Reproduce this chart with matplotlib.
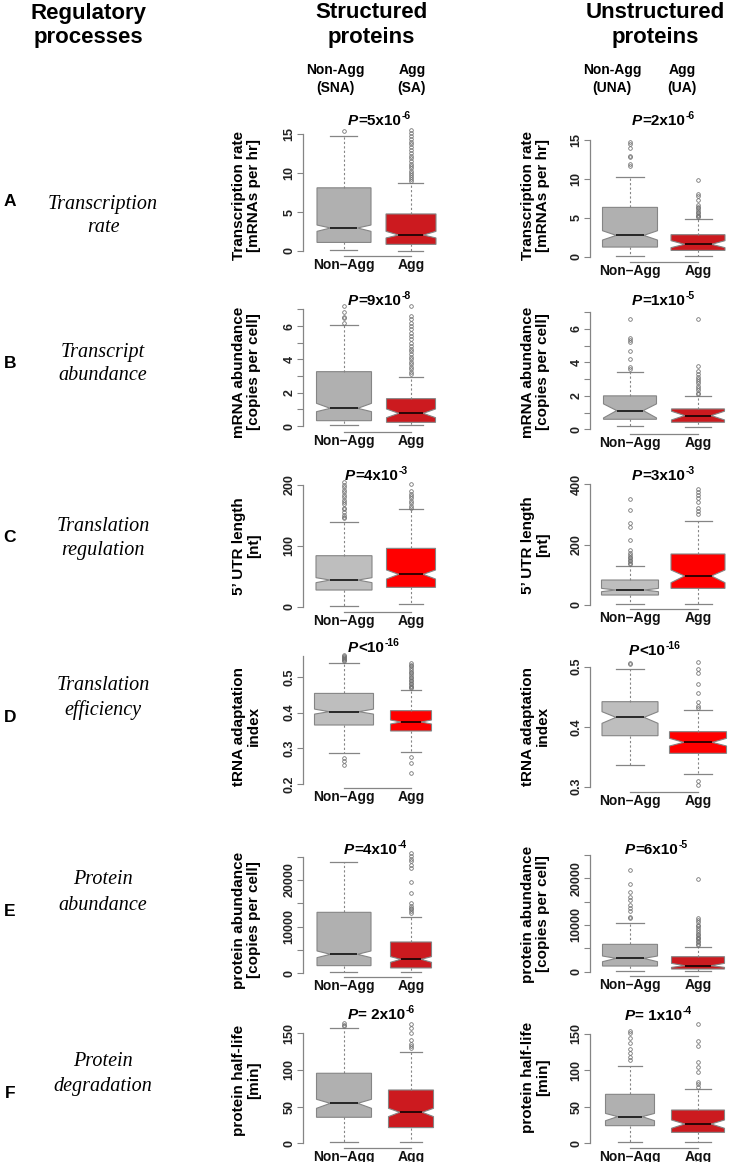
import matplotlib
matplotlib.use("Agg")
import matplotlib.pyplot as plt

W, H = 746, 1162
plt.rcParams['font.family'] = ['Liberation Sans', 'DejaVu Sans']

# ---------------- data ----------------
GROUPS = ["Non\u2013Agg", "Agg"]
ROW_LETTERS = ["A", "B", "C", "D", "E", "F"]
ROW_TITLES = [("Transcription", "rate"), ("Transcript", "abundance"),
              ("Translation", "regulation"), ("Translation", "efficiency"),
              ("Protein", "abundance"), ("Protein", "degradation")]
YLABELS = [("Transcription rate", "[mRNAs per hr]"),
           ("mRNA abundance", "[copies per cell]"),
           ("5\u2019 UTR length", "[nt]"),
           ("tRNA adaptation", "index"),
           ("protein abundance", "[copies per cell]"),
           ("protein half-life", "[min]")]

# box stats: [whislo, q1, median, q3, whishi]; notch: [cilo, cihi]
A_S_NON = [0.1, 1.1, 2.95, 8.1, 14.7]; A_S_NON_CI = [2.52, 3.33]; A_S_NON_OUT = [15.4]
A_S_AGG = [0.0, 0.85, 2.05, 4.75, 8.76]; A_S_AGG_CI = [1.67, 2.52]
A_S_AGG_OUT = [9.0, 9.2, 9.5, 9.8, 10.0, 10.3, 10.6, 10.9, 11.2, 11.5, 11.9, 12.2,
               12.6, 12.9, 13.3, 13.7, 14.0, 14.4, 14.8, 15.1, 15.5]
A_U_NON = [0.13, 1.24, 2.74, 6.34, 10.24]; A_U_NON_CI = [2.14, 3.34]
A_U_NON_OUT = [11.6, 11.9, 12.8, 13.0, 14.0, 14.5, 14.8]
A_U_AGG = [0.13, 0.81, 1.59, 2.83, 4.84]; A_U_AGG_CI = [1.16, 2.06]
A_U_AGG_OUT = [5.06, 5.2, 5.4, 5.6, 5.8, 6.0, 6.2, 6.4, 6.7, 7.3, 7.8, 8.0, 9.8]

B_S_NON = [0.05, 0.32, 1.06, 3.26, 6.06]; B_S_NON_CI = [0.86, 1.36]
B_S_NON_OUT = [6.16, 6.46, 6.56, 6.86, 7.2]
B_S_AGG = [0.04, 0.22, 0.76, 1.64, 2.96]; B_S_AGG_CI = [0.5, 1.02]
B_S_AGG_OUT = [3.1, 3.25, 3.4, 3.55, 3.7, 3.85, 4.0, 4.15, 4.3, 4.5, 4.65, 4.8, 5.0,
               5.2, 5.4, 5.6, 5.8, 6.0, 6.2, 6.4, 6.6, 7.2]
B_U_NON = [0.22, 0.6, 1.12, 2.0, 3.41]; B_U_NON_CI = [0.68, 1.52]
B_U_NON_OUT = [3.6, 3.7, 4.2, 4.7, 5.2, 5.35, 5.45, 6.6]
B_U_AGG = [0.12, 0.42, 0.82, 1.22, 2.01]; B_U_AGG_CI = [0.56, 1.08]
B_U_AGG_OUT = [2.1, 2.2, 2.35, 2.5, 2.6, 2.75, 2.9, 3.0, 3.15, 3.3, 3.5, 3.8, 6.6]

C_S_NON = [1, 27.4, 43.8, 83.8, 139.7]; C_S_NON_CI = [39.5, 47.7]
C_S_NON_OUT = [145, 148, 151, 155, 160, 163, 168, 172, 176, 180, 184, 188, 192, 196, 200, 205]
C_S_AGG = [3.8, 31.8, 53.2, 95.9, 160]; C_S_AGG_CI = [45.5, 60.3]
C_S_AGG_OUT = [163, 166, 170, 174, 178, 182, 186, 190, 201.6]
C_U_NON = [3.3, 33, 49.6, 82.6, 129]; C_U_NON_CI = [44, 55]
C_U_NON_OUT = [135, 140, 145, 150, 155, 160, 166, 171, 182, 215, 259, 270, 314, 349]
C_U_AGG = [3.3, 55, 96, 168.6, 277.7]; C_U_AGG_CI = [73.8, 115.7]
C_U_AGG_OUT = [300, 310, 320, 340, 355, 365, 372, 382]

D_S_NON = [0.286, 0.3654, 0.4028, 0.454, 0.5383]; D_S_NON_CI = [0.396, 0.41]
D_S_NON_OUT = [0.253, 0.265, 0.272, 0.545, 0.548, 0.551, 0.554, 0.557, 0.56, 0.562]
D_S_AGG = [0.2888, 0.3486, 0.3738, 0.4056, 0.4636]; D_S_AGG_CI = [0.3682, 0.3794]
D_S_AGG_OUT = [0.23, 0.26, 0.277, 0.468, 0.472, 0.476, 0.48, 0.484, 0.488, 0.492,
               0.496, 0.5, 0.505, 0.51, 0.515, 0.52, 0.525, 0.53, 0.535, 0.54]
D_U_NON = [0.336, 0.385, 0.4156, 0.4417, 0.4956]; D_U_NON_CI = [0.4056, 0.425]
D_U_NON_OUT = [0.504, 0.507]
D_U_AGG = [0.322, 0.3556, 0.3739, 0.3917, 0.4278]; D_U_AGG_CI = [0.3678, 0.3806]
D_U_AGG_OUT = [0.303, 0.31, 0.432, 0.434, 0.4417, 0.457, 0.472, 0.489, 0.496, 0.508]

E_S_NON = [214, 1643, 4071, 13071, 23929]; E_S_NON_CI = [3357, 4786]; E_S_NON_OUT = []
E_S_AGG = [214, 1143, 3000, 6714, 12000]; E_S_AGG_CI = [2357, 3571]
E_S_AGG_OUT = [13000, 13400, 13714, 14071, 14429, 15000, 17143, 19643, 22643, 23214,
               24000, 24500, 25200, 25857]
E_U_NON = [143, 1214, 2857, 5857, 10357]; E_U_NON_CI = [2143, 3357]
E_U_NON_OUT = [11429, 11786, 13071, 13571, 14286, 15357, 16071, 17143, 18786, 21786]
E_U_AGG = [143, 571, 1286, 3214, 5214]; E_U_AGG_CI = [929, 1786]
E_U_AGG_OUT = [5714, 6000, 6300, 6600, 6900, 7200, 7500, 7800, 8100, 8500, 8900, 9300,
               9700, 10100, 10600, 11000, 11429, 19786]

F_S_NON = [1.4, 35.5, 54.5, 95.5, 156.8]; F_S_NON_CI = [47.7, 60]; F_S_NON_OUT = [160, 162, 163.6]
F_S_AGG = [1.4, 21.4, 42.3, 72.7, 125]; F_S_AGG_CI = [36.4, 47.7]
F_S_AGG_OUT = [129.5, 133, 136, 141, 150, 157, 162.7]
F_U_NON = [1.4, 24.2, 36.6, 67.2, 106.5]; F_U_NON_CI = [31, 41]
F_U_NON_OUT = [114, 118, 123.6, 129, 137, 144, 151, 154.5]
F_U_AGG = [1.4, 15, 26.5, 45.7, 74]; F_U_AGG_CI = [20.6, 32]
F_U_AGG_OUT = [76.8, 82, 84, 98, 105, 112, 133.5, 141, 163.7]

# P-values: (main, exponent)
P_TEXT = {
    "A_S": ("=5x10", "-6"), "A_U": ("=2x10", "-6"),
    "B_S": ("=9x10", "-8"), "B_U": ("=1x10", "-5"),
    "C_S": ("=4x10", "-3"), "C_U": ("=3x10", "-3"),
    "D_S": ("<10", "-16"), "D_U": ("<10", "-16"),
    "E_S": ("=4x10", "-4"), "E_U": ("=6x10", "-5"),
    "F_S": ("= 2x10", "-6"), "F_U": ("= 1x10", "-4"),
}

# y ticks: (major ticks, labelled ticks)
YTICKS = {
    "A": ([0, 5, 10, 15], [0, 5, 10, 15]),
    "B": ([0, 1, 2, 3, 4, 5, 6, 7], [0, 2, 4, 6]),
    "C_S": ([0, 100, 200], [0, 100, 200]),
    "C_U": ([0, 200, 400], [0, 200, 400]),
    "D_S": ([0.2, 0.3, 0.4, 0.5], [0.2, 0.3, 0.4, 0.5]),
    "D_U": ([0.3, 0.4, 0.5], [0.3, 0.4, 0.5]),
    "E": ([0, 5000, 10000, 15000, 20000, 25000], [0, 10000, 20000]),
    "F": ([0, 50, 100, 150], [0, 50, 100, 150]),
}

PANEL_DATA = {
    "A_S": (A_S_NON, A_S_NON_CI, A_S_NON_OUT, A_S_AGG, A_S_AGG_CI, A_S_AGG_OUT),
    "A_U": (A_U_NON, A_U_NON_CI, A_U_NON_OUT, A_U_AGG, A_U_AGG_CI, A_U_AGG_OUT),
    "B_S": (B_S_NON, B_S_NON_CI, B_S_NON_OUT, B_S_AGG, B_S_AGG_CI, B_S_AGG_OUT),
    "B_U": (B_U_NON, B_U_NON_CI, B_U_NON_OUT, B_U_AGG, B_U_AGG_CI, B_U_AGG_OUT),
    "C_S": (C_S_NON, C_S_NON_CI, C_S_NON_OUT, C_S_AGG, C_S_AGG_CI, C_S_AGG_OUT),
    "C_U": (C_U_NON, C_U_NON_CI, C_U_NON_OUT, C_U_AGG, C_U_AGG_CI, C_U_AGG_OUT),
    "D_S": (D_S_NON, D_S_NON_CI, D_S_NON_OUT, D_S_AGG, D_S_AGG_CI, D_S_AGG_OUT),
    "D_U": (D_U_NON, D_U_NON_CI, D_U_NON_OUT, D_U_AGG, D_U_AGG_CI, D_U_AGG_OUT),
    "E_S": (E_S_NON, E_S_NON_CI, E_S_NON_OUT, E_S_AGG, E_S_AGG_CI, E_S_AGG_OUT),
    "E_U": (E_U_NON, E_U_NON_CI, E_U_NON_OUT, E_U_AGG, E_U_AGG_CI, E_U_AGG_OUT),
    "F_S": (F_S_NON, F_S_NON_CI, F_S_NON_OUT, F_S_AGG, F_S_AGG_CI, F_S_AGG_OUT),
    "F_U": (F_U_NON, F_U_NON_CI, F_U_NON_OUT, F_U_AGG, F_U_AGG_CI, F_U_AGG_OUT),
}

# ---------------- layout (pixels) ----------------
COL_X = {"S": dict(left=303, c1=344, c2=411), "U": dict(left=590, c1=630, c2=698)}
# bottom, top, calibration (v0, py0, v1, py1), spine bounds, box widths px, ylabel y
LAY = {
    "A_S": (256, 126, (0, 251, 15, 134), (0, 15), (54, 50), 195),
    "A_U": (262, 132, (0, 256.7, 15, 140), (0, 15), (55, 54), 195),
    "B_S": (432, 302, (0, 426, 6, 326), (0, 7), (55, 49), 372),
    "B_U": (434, 305, (0, 429.3, 6, 329), (0, 7), (53, 53), 372),
    "C_S": (612, 480, (0, 606.7, 200, 485), (0, 200), (56, 49), 546),
    "C_U": (609, 478, (0, 605, 400, 484), (0, 400), (57, 54), 545),
    "D_S": (788, 652, (0.2, 784, 0.5, 677), (0.2, 0.56), (59, 41), 726),
    "D_U": (792, 660, (0.3, 786.7, 0.5, 666.7), (0.3, 0.5), (56, 57), 726),
    "E_S": (977, 852, (0, 973.3, 20000, 880), (0, 25000), (54, 41), 920),
    "E_U": (976, 850, (0, 971.7, 20000, 878.3), (0, 25000), (55, 53), 914),
    "F_S": (1148, 1025, (0, 1143.3, 150, 1033.3), (0, 150), (55, 45), 1080),
    "F_U": (1148, 1025, (0, 1143.3, 150, 1034), (0, 150), (49, 53), 1077),
}
P_POS = {"A_S": (348, 120), "A_U": (632, 120), "B_S": (348, 300), "B_U": (632, 300),
         "C_S": (345, 475), "C_U": (632, 475), "D_S": (348, 647), "D_U": (629, 650),
         "E_S": (344, 849), "E_U": (625, 849), "F_S": (348, 1014), "F_U": (625, 1015)}
YLAB_X = {"S": (239, 254), "U": (528, 543)}
ROW_Y = [(204, 228), (352, 376), (527, 550), (686, 710), (880, 905), (1062, 1086)]
LETTER_Y = [202, 363, 537, 718, 912, 1093]

GREY_BOX = {"A": "#b0b0b0", "B": "#b0b0b0", "C": "#bebebe", "D": "#bebebe",
            "E": "#b0b0b0", "F": "#b0b0b0"}
RED_BOX = {"A": "#cc1a1f", "B": "#cc1a1f", "C": "#ff0000", "D": "#ff0000",
           "E": "#cc1a1f", "F": "#cc1a1f"}
EDGE = "#858585"


def fx(x):
    return x / W


def fy(y):
    return 1 - y / H


fig = plt.figure(figsize=(W / 100, H / 100), dpi=100)

exp_pending = []

for key, (non, non_ci, non_out, agg, agg_ci, agg_out) in PANEL_DATA.items():
    row, col = key.split("_")
    bottom, top, (v0, py0, v1, py1), sb, bw, ylab_y = LAY[key]
    cx = COL_X[col]
    unit = cx["c2"] - cx["c1"]
    margin = cx["c1"] - cx["left"]
    right = cx["c2"] + margin
    xlim = (1 - margin / unit, 2 + margin / unit)
    k = (v1 - v0) / (py0 - py1)
    ylim = (v0 - (bottom - py0) * k, v0 + (py0 - top) * k)

    ax = fig.add_axes([fx(cx["left"]), fy(bottom), (right - cx["left"]) / W, (bottom - top) / H])
    stats = []
    for s, ci, out, lab in ((non, non_ci, non_out, GROUPS[0]), (agg, agg_ci, agg_out, GROUPS[1])):
        stats.append(dict(whislo=s[0], q1=s[1], med=s[2], q3=s[3], whishi=s[4],
                          cilo=ci[0], cihi=ci[1], fliers=out, label=lab))
    widths = [bw[0] / unit, bw[1] / unit]
    res = ax.bxp(stats, positions=[1, 2], widths=widths, capwidths=[w / 2 for w in widths],
                 shownotches=True, patch_artist=True,
                 boxprops=dict(edgecolor=EDGE, linewidth=0.8),
                 whiskerprops=dict(color=EDGE, linestyle=(0, (2, 2)), linewidth=0.8),
                 capprops=dict(color=EDGE, linewidth=0.9),
                 medianprops=dict(color="black", linewidth=1.1),
                 flierprops=dict(marker="o", markersize=2.6, markerfacecolor="none",
                                 markeredgecolor="#6a6a6a", markeredgewidth=0.55))
    res["boxes"][0].set_facecolor(GREY_BOX[row])
    res["boxes"][1].set_facecolor(RED_BOX[row])
    for fl in res["fliers"]:
        fl.set_clip_on(False)

    ax.set_xlim(*xlim)
    ax.set_ylim(*ylim)
    ax.patch.set_alpha(0)
    for sp in ("top", "right"):
        ax.spines[sp].set_visible(False)
    ax.spines["left"].set_bounds(*sb)
    ax.spines["bottom"].set_bounds(1, 2)
    for sp in ("left", "bottom"):
        ax.spines[sp].set_color(EDGE)
        ax.spines[sp].set_linewidth(0.9)

    tk = YTICKS.get(key, YTICKS.get(row))
    ax.set_yticks(tk[0])
    ax.set_yticklabels([(("%g" % t) if t in tk[1] else "") for t in tk[0]])
    ax.tick_params(axis="y", length=4, width=0.8, color=EDGE, pad=1.5,
                   labelsize=9, labelcolor="#222222")
    for lbl in ax.get_yticklabels():
        lbl.set_rotation(90)
        lbl.set_va("center")
        lbl.set_fontweight("bold")
    ax.set_xticks([1, 2])
    ax.set_xticklabels(GROUPS)
    ax.tick_params(axis="x", length=0, pad=1.5, labelsize=10, labelcolor="#111111")
    for lbl in ax.get_xticklabels():
        lbl.set_fontweight("bold")

    # y label (two lines)
    yl1, yl2 = YLABELS[ROW_LETTERS.index(row)]
    x1, x2 = YLAB_X[col]
    fig.text(fx(x1), fy(ylab_y), yl1, rotation=90, ha="center", va="center",
             fontsize=11, fontweight="bold")
    fig.text(fx(x2), fy(ylab_y), yl2, rotation=90, ha="center", va="center",
             fontsize=11, fontweight="bold")

    # P-value text
    px, pyc = P_POS[key]
    main, ex = P_TEXT[key]
    tp = fig.text(fx(px), fy(pyc + 5), "P", ha="left", va="baseline",
                  fontsize=11, fontweight="bold", fontstyle="italic")
    exp_pending.append((tp, main, ex, pyc))

# headers
for (x, l1, l2) in ((88, "Regulatory", "processes"), (371, "Structured", "proteins"),
                    (655, "Unstructured", "proteins")):
    fig.text(fx(x), fy(13), l1, ha="center", va="center", fontsize=16, fontweight="bold")
    fig.text(fx(x), fy(37), l2, ha="center", va="center", fontsize=16, fontweight="bold")
for (x, l1, l2) in ((335, "Non-Agg", "(SNA)"), (412, "Agg", "(SA)"),
                    (612, "Non-Agg", "(UNA)"), (682, "Agg", "(UA)")):
    fig.text(fx(x), fy(70), l1, ha="center", va="center", fontsize=10, fontweight="bold")
    fig.text(fx(x), fy(88), l2, ha="center", va="center", fontsize=10, fontweight="bold")

for i, letter in enumerate(ROW_LETTERS):
    fig.text(fx(10), fy(LETTER_Y[i]), letter, ha="center", va="center",
             fontsize=12.5, fontweight="bold")
    t1, t2 = ROW_TITLES[i]
    ya, yb = ROW_Y[i]
    fig.text(fx(103), fy(ya), t1, ha="center", va="center", fontsize=14.5,
             fontstyle="italic", family=["Liberation Serif"])
    fig.text(fx(103), fy(yb), t2, ha="center", va="center", fontsize=14.5,
             fontstyle="italic", family=["Liberation Serif"])

# place main and exponent parts of P-value labels after measuring text extents
fig.canvas.draw()
r = fig.canvas.get_renderer()
inv = fig.transFigure.inverted()
for tp, main, ex, pyc in exp_pending:
    bb = tp.get_window_extent(r)
    xm = inv.transform((bb.x1, 0))[0]
    tm = fig.text(xm, fy(pyc + 5), main, ha="left", va="baseline",
                  fontsize=11, fontweight="bold")
    fig.canvas.draw()
    bb2 = tm.get_window_extent(r)
    xe = inv.transform((bb2.x1 + 0.5, 0))[0]
    fig.text(xe, fy(pyc - 1), ex, ha="left", va="baseline", fontsize=7.5, fontweight="bold")

fig.savefig("out.png", dpi=100)
